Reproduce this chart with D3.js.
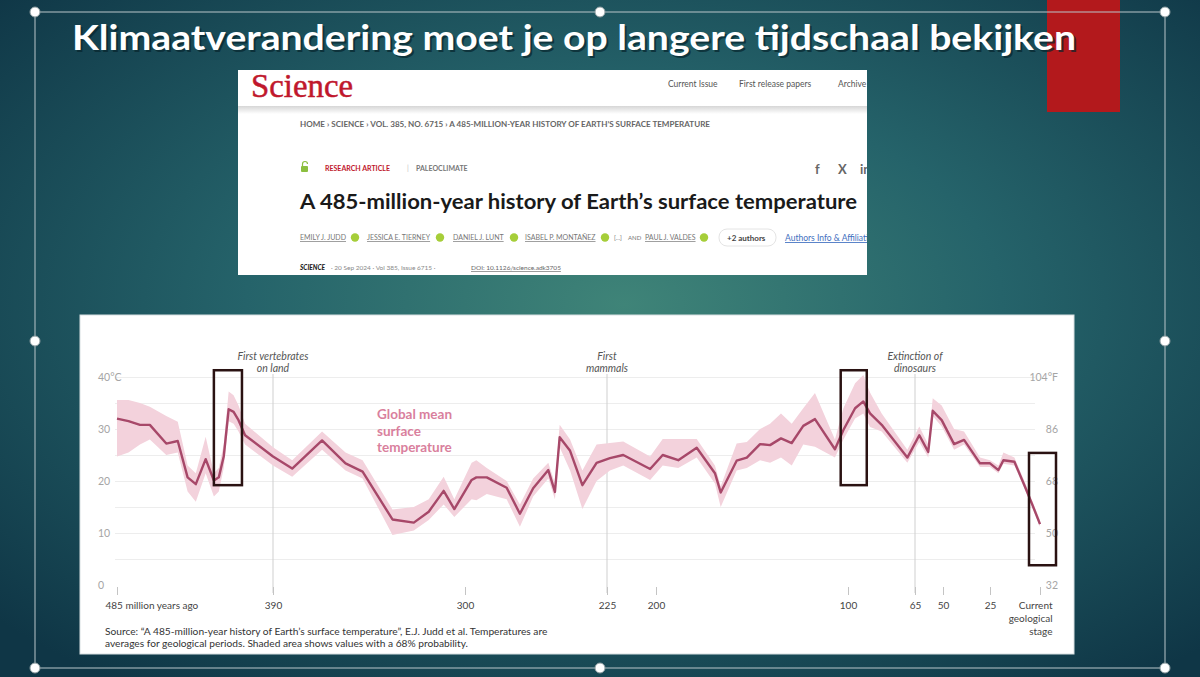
<!DOCTYPE html>
<html>
<head>
<meta charset="utf-8">
<script src="https://cdn.jsdelivr.net/npm/d3@7"></script>
<style>
  html, body { margin: 0; padding: 0; background: #12404c; overflow: hidden; }
  text { font-family: Lato, "Open Sans", sans-serif; }
</style>
</head>
<body>
<div id="slide"></div>
<script>
// ---- data (millions of years ago, °C) ----
var ages  = [485, 478, 471, 465, 455, 448, 442, 437, 431, 426, 423, 420, 417, 414, 411, 407,
             390, 381, 367, 356, 348, 334, 324, 317, 310, 305,
             296.5, 294, 288.5, 278, 271, 264, 256, 252.5, 250, 244.5, 238, 230.5,
             223.5, 216.7, 203, 196.5, 188.4, 178.8, 169.3, 166.3, 158, 152.7, 145.8, 140.6,
             134.9, 129.3, 123.3, 117.2, 106.8, 102.4, 96.3, 92, 88.5, 82.4, 69,
             62.7, 57.9, 55.5, 50.7, 44.1, 38.8, 30.3, 25, 20.8, 18.3, 12.8, 7.5, 4.2, 0];
var temps = [32.0, 31.5, 30.8, 30.8, 27.2, 27.7, 20.7, 19.4, 24.2, 20.1, 20.7, 24.7, 33.8, 33.3, 31.7, 28.8,
             24.7, 22.4, 27.8, 23.4, 21.8, 12.6, 12.0, 14.1, 18.1, 14.6,
             20.2, 20.7, 20.7, 18.7, 13.7, 18.6, 22.1, 17.9, 28.4, 25.8, 19.2, 23.5,
             24.4, 25.0, 22.3, 25.0, 24.0, 26.4, 21.5, 17.8, 23.9, 24.5, 27.1, 26.9,
             28.2, 27.3, 30.6, 31.9, 26.1, 29.8, 34.0, 35.3, 33.0, 30.8, 24.5,
             28.8, 25.6, 33.5, 31.7, 27.1, 27.9, 23.4, 23.4, 22.1, 24.0, 23.7, 18.9, 15.8, 11.7];
var lows  = [24.7, 25.5, 27.0, 28.0, 25.0, 25.5, 18.0, 16.0, 21.5, 17.0, 18.0, 22.5, 31.5, 31.0, 29.5, 27.0,
             23.0, 20.8, 26.0, 22.0, 20.5, 9.6, 10.5, 12.5, 15.5, 13.1,
             16.5, 16.3, 17.5, 16.5, 11.2, 17.0, 20.5, 16.5, 26.5, 22.0, 14.6, 20.0,
             22.0, 23.0, 20.2, 23.0, 22.5, 24.5, 19.5, 15.0, 22.0, 22.5, 24.0, 23.5,
             24.5, 23.0, 27.0, 26.6, 24.5, 28.0, 32.0, 33.0, 30.4, 29.5, 23.5,
             27.5, 24.5, 32.5, 30.5, 26.0, 27.0, 22.7, 22.7, 21.5, 23.3, 23.0, 18.3, 15.2, 11.2];
var highs = [35.6, 35.6, 35.0, 34.3, 32.5, 31.4, 23.0, 21.5, 28.5, 21.5, 22.5, 27.0, 37.2, 36.5, 34.5, 31.0,
             26.5, 24.0, 29.5, 25.5, 24.0, 14.5, 15.0, 16.5, 20.8, 16.5,
             23.5, 24.0, 22.5, 20.0, 15.5, 20.5, 23.5, 19.5, 30.8, 28.0, 22.0, 27.0,
             27.3, 27.6, 24.7, 28.1, 28.1, 28.1, 23.0, 19.0, 27.2, 27.5, 30.0, 31.0,
             33.0, 31.0, 34.0, 36.9, 28.0, 34.0, 38.8, 40.4, 37.0, 33.0, 26.0,
             30.5, 27.0, 35.9, 34.5, 30.0, 29.5, 24.5, 24.0, 23.0, 25.5, 24.5, 19.7, 16.5, 12.5];

var xTicks = [485, 390, 300, 225, 200, 100, 65, 50, 25, 0];
var xTickLabels = ["485 million years ago", "390", "300", "225", "200", "100", "65", "50", "25", "Current"];
var celsiusTicks = [0, 10, 20, 30, 40];
var fahrenheitTicks = [32, 50, 68, 86, 104];
var gridTicks = [5, 10, 15, 20, 25, 30, 35, 40];

var eventAges = [390, 225, 65];
var eventLabels = [["First vertebrates", "on land"], ["First", "mammals"], ["Extinction of", "dinosaurs"]];

// red boxes drawn over the chart on the slide: [older age, younger age, low °C, high °C]
var boxes = [[426, 408.9, 19.2, 41.3], [103.8, 90.2, 19.2, 41.3], [5.5, -8, 3.8, 25.4]];

// ---- slide ----
var W = 1200, H = 677;
var svg = d3.select("#slide").append("svg")
    .attr("width", W)
    .attr("height", H);
var defs = svg.append("defs");

var bg = defs.append("radialGradient").attr("id", "bg")
    .attr("cx", "52%").attr("cy", "45%").attr("r", "70%");
bg.append("stop").attr("offset", "0%").attr("stop-color", "#3f8478");
bg.append("stop").attr("offset", "45%").attr("stop-color", "#25636a");
bg.append("stop").attr("offset", "100%").attr("stop-color", "#0f3646");

var hdrShadow = defs.append("linearGradient").attr("id", "hdrShadow")
    .attr("x1", 0).attr("y1", 0).attr("x2", 0).attr("y2", 1);
hdrShadow.append("stop").attr("offset", "0%").attr("stop-color", "#d6d6d6");
hdrShadow.append("stop").attr("offset", "100%").attr("stop-color", "#ffffff");

defs.append("clipPath").attr("id", "cardClip")
    .append("rect").attr("x", 238).attr("y", 70).attr("width", 629).attr("height", 205);

svg.append("rect").attr("width", W).attr("height", H).attr("fill", "url(#bg)");

// red accent block behind the title
svg.append("rect")
    .attr("x", 1047).attr("y", 0)
    .attr("width", 73).attr("height", 112)
    .attr("fill", "#b3191c");

// selection frame of the slide object
var frame = svg.append("g").attr("stroke", "#b9c6ca").attr("stroke-width", 1).attr("fill", "none");
frame.append("rect").attr("x", 35).attr("y", 12).attr("width", 1130).attr("height", 656);

// title
var title = "Klimaatverandering moet je op langere tijdschaal bekijken";
svg.append("text")
    .attr("x", 74).attr("y", 52)
    .attr("textLength", 1004).attr("lengthAdjust", "spacingAndGlyphs")
    .style("font-size", "34px").style("font-weight", 700)
    .attr("fill", "#07252d").attr("opacity", 0.7)
    .text(title);
svg.append("text")
    .attr("x", 72).attr("y", 50)
    .attr("textLength", 1004).attr("lengthAdjust", "spacingAndGlyphs")
    .style("font-size", "34px").style("font-weight", 700)
    .attr("fill", "#ffffff")
    .text(title);

// ---- Science article screenshot ----
var card = svg.append("g").attr("clip-path", "url(#cardClip)");
card.append("rect").attr("x", 238).attr("y", 70).attr("width", 629).attr("height", 205).attr("fill", "#ffffff");
card.append("rect").attr("x", 238).attr("y", 106).attr("width", 629).attr("height", 8).attr("fill", "url(#hdrShadow)");
card.append("text")
    .attr("x", 251).attr("y", 97)
    .attr("textLength", 102).attr("lengthAdjust", "spacingAndGlyphs")
    .style("font-family", "'Liberation Serif', 'DejaVu Serif', serif")
    .style("font-size", "34px")
    .attr("fill", "#c0172c")
    .attr("stroke", "#c0172c").attr("stroke-width", 0.5)
    .text("Science");

var nav = [["Current Issue", 668], ["First release papers", 739], ["Archive", 838]];
card.selectAll(".nav").data(nav).join("text")
    .attr("class", "nav")
    .attr("x", d => d[1]).attr("y", 87)
    .style("font-size", "8.5px").attr("fill", "#555")
    .text(d => d[0]);

card.append("text")
    .attr("x", 300).attr("y", 127)
    .attr("textLength", 410).attr("lengthAdjust", "spacingAndGlyphs")
    .style("font-size", "6.5px").style("font-weight", 700).attr("fill", "#666")
    .text("HOME  \u203A  SCIENCE  \u203A  VOL. 385, NO. 6715  \u203A  A 485-MILLION-YEAR HISTORY OF EARTH\u2019S SURFACE TEMPERATURE");

// open access lock
card.append("rect").attr("x", 301).attr("y", 166).attr("width", 7).attr("height", 6).attr("rx", 1).attr("fill", "#8cbf3f");
card.append("path").attr("d", "M302.5,166 v-2 a2.5,2.5 0 0 1 5,0").attr("fill", "none").attr("stroke", "#8cbf3f").attr("stroke-width", 1.2);
card.append("text").attr("x", 325).attr("y", 171)
    .style("font-size", "7px").style("font-weight", 700).attr("fill", "#c0172c")
    .text("RESEARCH ARTICLE");
card.append("text").attr("x", 407).attr("y", 171)
    .style("font-size", "7px").attr("fill", "#bbb").text("|");
card.append("text").attr("x", 416).attr("y", 171)
    .style("font-size", "7px").style("font-weight", 700).attr("fill", "#777")
    .text("PALEOCLIMATE");
var social = [["f", 815], ["X", 838], ["in", 860]];
card.selectAll(".soc").data(social).join("text")
    .attr("class", "soc")
    .attr("x", d => d[1]).attr("y", 174)
    .style("font-size", "13px").style("font-weight", 700).attr("fill", "#666")
    .text(d => d[0]);

card.append("text")
    .attr("x", 300).attr("y", 209)
    .attr("textLength", 557).attr("lengthAdjust", "spacingAndGlyphs")
    .style("font-size", "21px").style("font-weight", 700).attr("fill", "#1a1a1a")
    .text("A 485-million-year history of Earth\u2019s surface temperature");

var authors = [["EMILY J. JUDD", 300, 355], ["JESSICA E. TIERNEY", 367, 440], ["DANIEL J. LUNT", 453, 514],
               ["ISABEL P. MONTA\u00D1EZ", 525, 605], ["[...]", 614, null], ["AND", 628, null], ["PAUL J. VALDES", 645, 704]];
card.selectAll(".auth").data(authors).join("text")
    .attr("class", "auth")
    .attr("x", d => d[1]).attr("y", 240)
    .style("font-size", d => d[2] ? "7px" : "6px").attr("fill", "#777")
    .style("text-decoration", d => d[2] ? "underline" : "none")
    .text(d => d[0]);
card.selectAll(".orcid").data(authors.filter(d => d[2])).join("circle")
    .attr("class", "orcid")
    .attr("cx", d => d[2]).attr("cy", 237.5).attr("r", 4.2)
    .attr("fill", "#a6ce39");
card.append("rect").attr("x", 719).attr("y", 229).attr("width", 57).attr("height", 17).attr("rx", 8)
    .attr("fill", "#fff").attr("stroke", "#e4e4e4");
card.append("text").attr("x", 727).attr("y", 241)
    .style("font-size", "8px").style("font-weight", 700).attr("fill", "#444").text("+2 authors");
card.append("text").attr("x", 785).attr("y", 241)
    .style("font-size", "8.5px").style("text-decoration", "underline").attr("fill", "#3f6fc0")
    .text("Authors Info & Affiliations");

card.append("text").attr("x", 300).attr("y", 270)
    .style("font-size", "6.5px").style("font-weight", 900).style("font-style", "italic").attr("fill", "#222")
    .text("SCIENCE");
card.append("text").attr("x", 331).attr("y", 270)
    .style("font-size", "6.5px").attr("fill", "#888")
    .text("\u00B7  20 Sep 2024  \u00B7  Vol 385, Issue 6715  \u00B7");
card.append("text").attr("x", 471).attr("y", 270)
    .style("font-size", "6.5px").style("text-decoration", "underline").attr("fill", "#666")
    .text("DOI: 10.1126/science.adk3705");

// ---- chart panel ----
svg.append("rect")
    .attr("x", 80).attr("y", 315)
    .attr("width", 994).attr("height", 339)
    .attr("fill", "#ffffff")
    .attr("stroke", "#d7dfe1").attr("stroke-width", 1);

var chart = svg.append("g");

// piecewise time scale: the axis of the original is not evenly spaced
var x = d3.scaleLinear()
    .domain(xTicks)
    .range([117, 273, 465, 607, 656, 848, 915, 943, 990, 1040]);
var y = d3.scaleLinear().domain([0, 40]).range([585, 377]);
var yF = d3.scaleLinear().domain([32, 104]).range([585, 377]);

// gridlines
chart.append("g")
    .attr("class", "grid")
    .attr("transform", "translate(115,0)")
    .call(d3.axisRight(y).tickValues(gridTicks).tickSize(920).tickFormat(""))
    .call(g => g.select(".domain").remove())
    .call(g => g.selectAll("line").attr("stroke", "#ededed"));

// left °C labels
chart.append("g")
    .attr("transform", "translate(98,0)")
    .call(d3.axisRight(y).tickValues(celsiusTicks).tickSize(0).tickPadding(0)
        .tickFormat(d => d === 40 ? "40\u00B0C" : d))
    .call(g => g.select(".domain").remove())
    .call(g => g.selectAll("text").attr("fill", "#a5a5a5").style("font-size", "10.5px").style("font-family", "Lato, sans-serif"));

// right °F labels
chart.append("g")
    .attr("transform", "translate(1058,0)")
    .call(d3.axisLeft(yF).tickValues(fahrenheitTicks).tickSize(0).tickPadding(0)
        .tickFormat(d => d === 104 ? "104\u00B0F" : d))
    .call(g => g.select(".domain").remove())
    .call(g => g.selectAll("text").attr("fill", "#a5a5a5").style("font-size", "10.5px").style("font-family", "Lato, sans-serif"));

// event lines and labels
var ev = chart.selectAll(".event").data(eventAges).join("g").attr("class", "event");
ev.append("line")
    .attr("x1", d => x(d)).attr("x2", d => x(d))
    .attr("y1", y(40) - 3).attr("y2", y(0) + 8)
    .attr("stroke", "#cfcfcf").attr("stroke-width", 1);
ev.each(function (d, i) {
    d3.select(this).selectAll("text").data(eventLabels[i]).join("text")
        .attr("x", x(d)).attr("y", (t, j) => 360 + j * 12)
        .attr("text-anchor", "middle")
        .style("font-size", "10.5px").style("font-style", "italic")
        .attr("fill", "#555")
        .text(t => t);
});

// bottom axis
var xAxis = chart.append("g")
    .attr("transform", "translate(0,587)")
    .call(d3.axisBottom(x).tickValues(xTicks).tickSize(8).tickPadding(7)
        .tickFormat((d, i) => xTickLabels[i]));
xAxis.select(".domain").remove();
xAxis.selectAll("line").attr("stroke", "#c4c4c4");
xAxis.selectAll("text").attr("fill", "#444").style("font-size", "10px").style("font-family", "Lato, sans-serif");
xAxis.selectAll(".tick").filter(d => d === 485).select("text")
    .attr("text-anchor", "start").attr("x", -12);
var cur = xAxis.selectAll(".tick").filter(d => d === 0).select("text")
    .attr("text-anchor", "end").attr("x", 12);
cur.append("tspan").attr("x", 12).attr("dy", "1.3em").text("geological");
cur.append("tspan").attr("x", 12).attr("dy", "1.3em").text("stage");

// uncertainty band and mean line
var rows = ages.map((a, i) => ({ age: a, t: temps[i], lo: lows[i], hi: highs[i] }));
var area = d3.area()
    .x(d => x(d.age))
    .y0(d => y(d.lo))
    .y1(d => y(d.hi));
var line = d3.line()
    .x(d => x(d.age))
    .y(d => y(d.t));

chart.append("path")
    .datum(rows)
    .attr("d", area)
    .attr("fill", "#f3d2dc")
    .attr("stroke", "none");
chart.append("path")
    .datum(rows)
    .attr("d", line)
    .attr("fill", "none")
    .attr("stroke", "#a74869")
    .attr("stroke-width", 2.4)
    .attr("stroke-linejoin", "round");

// series label
chart.selectAll(".serieslabel").data(["Global mean", "surface", "temperature"]).join("text")
    .attr("class", "serieslabel")
    .attr("x", 377).attr("y", (d, i) => 419 + i * 16.5)
    .style("font-size", "13.5px").style("font-weight", 700)
    .attr("fill", "#d9809d")
    .text(d => d);

// source note
chart.selectAll(".source").data([
    "Source: \u201CA 485-million-year history of Earth\u2019s surface temperature\u201D, E.J. Judd et al. Temperatures are",
    "averages for geological periods. Shaded area shows values with a 68% probability."
]).join("text")
    .attr("class", "source")
    .attr("x", 105).attr("y", (d, i) => 635 + i * 12)
    .style("font-size", "10.2px")
    .attr("fill", "#333")
    .text(d => d);

// highlight boxes
chart.selectAll(".hlbox").data(boxes).join("rect")
    .attr("class", "hlbox")
    .attr("x", d => x(d[0]))
    .attr("width", d => x(d[1]) - x(d[0]))
    .attr("y", d => y(d[3]))
    .attr("height", d => y(d[2]) - y(d[3]))
    .attr("fill", "none")
    .attr("stroke", "#2a1212")
    .attr("stroke-width", 2.5);

// selection handles
var handles = [[35, 12], [600, 12], [1165, 12], [35, 341], [1165, 341], [35, 668], [600, 668], [1165, 668]];
svg.selectAll(".handle").data(handles).join("circle")
    .attr("class", "handle")
    .attr("cx", d => d[0]).attr("cy", d => d[1]).attr("r", 5)
    .attr("fill", "#ffffff").attr("stroke", "#8a9a9e").attr("stroke-width", 1);
</script>
</body>
</html>
